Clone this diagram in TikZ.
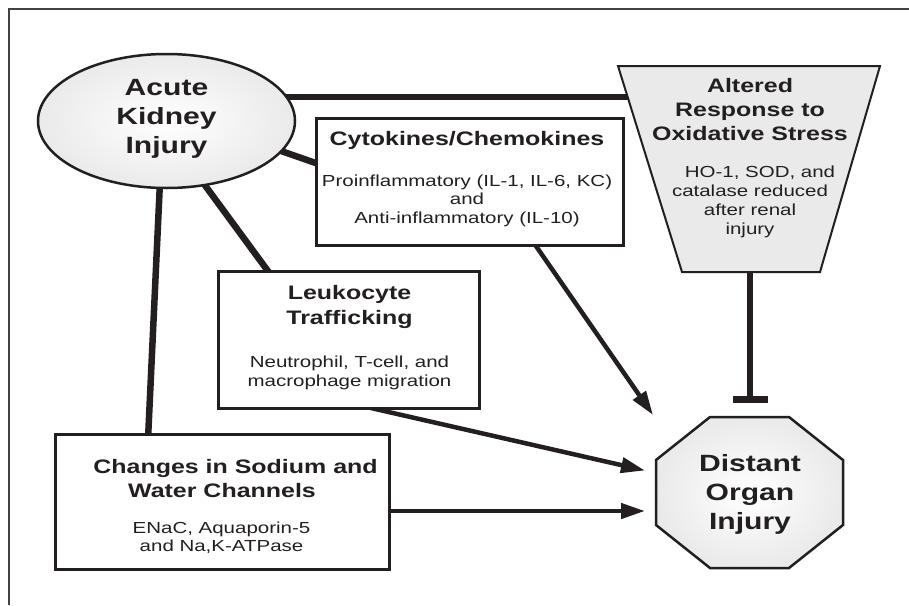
\documentclass[tikz,border=0pt]{standalone}
\usepackage{fontspec}
\setmainfont[FakeStretch=1.28]{Liberation Sans}
\usetikzlibrary{shapes.geometric,arrows.meta,calc}
\pgfdeclarelayer{bg}
\pgfsetlayers{bg,main}
\definecolor{ink}{HTML}{231F20}
\definecolor{shapefill}{HTML}{EAEAEA}
\begin{document}
\begin{tikzpicture}[x=1pt,y=-1pt,
  box/.style={draw=ink, line width=3pt, fill=white, inner sep=0pt},
  big/.style={font=\bfseries\fontsize{23.5}{29}\selectfont, align=center, text=ink, inner sep=0pt},
  title/.style={font=\bfseries\fontsize{19.5}{25}\selectfont, align=center, text=ink, inner sep=0pt},
  body/.style={font=\fontsize{16}{18.5}\selectfont, align=center, text=ink, inner sep=0pt},
  link/.style={draw=ink, line width=6.5pt},
  push/.style={draw=ink, line width=4.5pt, -{Triangle[length=24pt,width=15pt]}},
  frame/.style={draw=ink!85, line width=1.8pt}]
\useasboundingbox (0,0) rectangle (909,605);

% outer frame (open on the right and bottom)
\draw[frame] (9,605) -- (9,9) -- (909,9);

% Acute kidney injury
\node[ellipse, draw=ink, line width=2.5pt, minimum width=257pt, minimum height=134pt,
      inner sep=0pt, inner color=white, outer color=shapefill] (aki) at (166.5,121) {};
\node[big] (akitext) at (166.5,119) {Acute\\Kidney\\Injury};

% oxidative stress trapezium
\coordinate (trap) at (750,169);
\path[draw=ink, line width=2pt, fill=shapefill, line join=miter]
  ($(trap)+(-132,-103)$) -- ++(262,0) -- ++(-60,206) -- ++(-138,0) -- cycle;
\node[title, font=\bfseries\fontsize{19.5}{24}\selectfont] (traptitle) at (750,109.5) {Altered\\Response to\\Oxidative Stress};
\node[body, font=\fontsize{16}{19}\selectfont] (trapbody) at (750,201.5) {\hspace*{20pt}HO-1, SOD, and\\catalase reduced\\after renal\\injury};

% distant organ injury octagon
\coordinate (organ) at (750,492.5);
\path[draw=ink, line width=2.5pt, inner color=white, outer color=shapefill, line join=miter]
  ($(organ)+(-40,-75.5)$) -- ++(79,0) -- ++(54,43) -- ++(0,65) -- ++(-54,43)
  -- ++(-79,0) -- ++(-54,-43) -- ++(0,-65) -- cycle;
\node[big] (organtext) at (750,494.5) {Distant\\Organ\\Injury};

% mediator boxes
\node[box, minimum width=307pt, minimum height=127pt] (cyto) at (469.5,181.5) {};
\node[title] (cytotitle) at (467,140.5) {Cytokines/Chemokines};
\node[body] (cytobody) at (467,200.5) {Proinflammatory (IL-1, IL-6, KC)\\and\\Anti-inflammatory (IL-10)};

\node[box, minimum width=261pt, minimum height=137pt] (leuk) at (348.5,339.5) {};
\node[title] (leuktitle) at (349.5,307) {Leukocyte\\Trafficking};
\node[body] (leukbody) at (349.5,373) {Neutrophil, T-cell, and\\macrophage migration};

\node[box, minimum width=334pt, minimum height=135pt] (sodium) at (222,501.5) {};
\node[title, font=\bfseries\fontsize{19.5}{24}\selectfont] (sodtitle) at (222,478.5) {\hspace*{27pt}Changes in Sodium and\\Water Channels};
\node[body] (sodbody) at (221.5,537.5) {ENaC, Aquaporin-5\\and Na,K-ATPase};

% connectors, kept behind the shapes
\begin{pgfonlayer}{bg}
  \draw[link] ($(aki)+(0,-24)$) -- ($(trap)+(0,-72)$);
  \draw[link] ($(aki)+(83,19)$) -- ($(cyto)+(-129.5,-10)$);
  \draw[link] ($(aki)+(28,50)$) -- ($(leuk)+(-68.5,-52)$);
  \draw[link] ($(aki)+(-6,50)$) -- ($(sodium)+(-74.5,-51.5)$);
  \draw[link, -{Bar[width=35pt]}] ($(trap)+(0,80)$) -- ($(organ)+(0,-90)$);
  \draw[push] ($(cyto)+(58.5,53)$) -- ($(organ)+(-97,-77.5)$);
  \draw[push] ($(leuk)+(11.5,66)$) -- ($(organ)+(-105,-22)$);
  \draw[push] ($(sodium)+(160,9.5)$) -- ($(organ)+(-105,18.5)$);
\end{pgfonlayer}
\end{tikzpicture}
\end{document}
